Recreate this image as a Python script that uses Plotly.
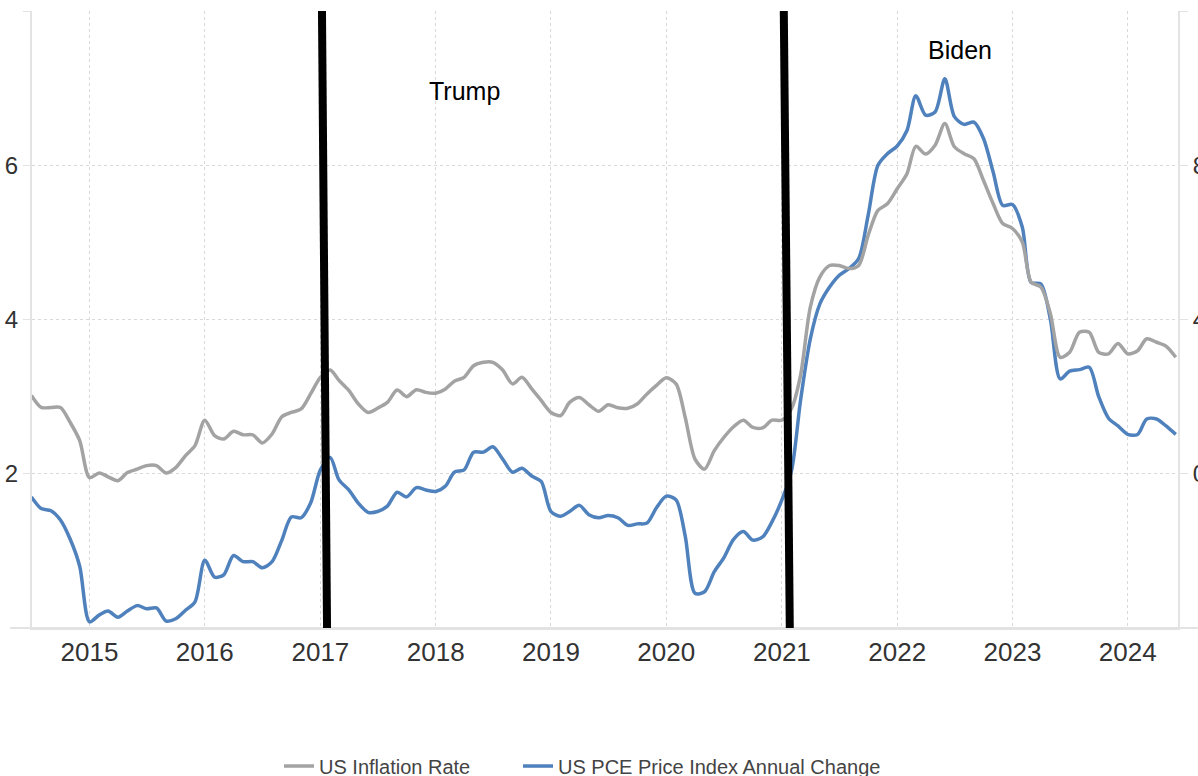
import pandas as pd
import plotly.graph_objects as go

# Monthly observations, Jul 2014 .. Jun 2024
start_month = "2014-07-01"
n_months = 120
dates = pd.date_range(start_month, periods=n_months, freq="MS")

# US Inflation Rate (CPI, YoY %) - right axis
us_inflation = [
    2.03, 1.72, 1.72, 1.72, 1.33, 0.86,
    -0.10, 0.02, -0.08, -0.18, 0.03, 0.12, 0.21, 0.21, 0.02, 0.16, 0.47, 0.73,
    1.39, 0.99, 0.90, 1.10, 1.01, 1.01, 0.80, 1.03, 1.48, 1.59, 1.68, 2.07,
    2.50, 2.69, 2.42, 2.16, 1.81, 1.59, 1.70, 1.85, 2.17, 2.00, 2.18, 2.11,
    2.09, 2.20, 2.40, 2.50, 2.80, 2.89, 2.89, 2.69, 2.33, 2.50, 2.20, 1.90,
    1.59, 1.51, 1.85, 1.98, 1.79, 1.62, 1.79, 1.71, 1.70, 1.81, 2.07, 2.29,
    2.49, 2.33, 1.46, 0.38, 0.12, 0.60, 0.94, 1.22, 1.39, 1.20, 1.19, 1.39,
    1.39, 1.70, 2.55, 4.32, 5.10, 5.40, 5.40, 5.32, 5.40, 6.18, 6.83, 7.00,
    7.39, 7.78, 8.49, 8.29, 8.52, 9.08, 8.48, 8.30, 8.17, 7.61, 7.00, 6.49,
    6.36, 6.01, 4.97, 4.84, 4.15, 3.02, 3.15, 3.67, 3.67, 3.15, 3.11, 3.38,
    3.11, 3.19, 3.50, 3.41, 3.31, 3.02,
]

# US PCE Price Index Annual Change (%) - left axis
us_pce = [
    1.70, 1.55, 1.52, 1.40, 1.15, 0.80,
    0.08, 0.17, 0.22, 0.14, 0.22, 0.29, 0.25, 0.26, 0.09, 0.12, 0.23, 0.34,
    0.88, 0.66, 0.69, 0.94, 0.86, 0.86, 0.78, 0.86, 1.14, 1.44, 1.43, 1.62,
    2.05, 2.21, 1.92, 1.79, 1.62, 1.50, 1.51, 1.58, 1.76, 1.70, 1.82, 1.79,
    1.77, 1.84, 2.02, 2.05, 2.28, 2.28, 2.35, 2.19, 2.02, 2.07, 1.97, 1.90,
    1.51, 1.45, 1.51, 1.59, 1.47, 1.43, 1.46, 1.43, 1.33, 1.35, 1.36, 1.56,
    1.71, 1.66, 1.19, 0.45, 0.47, 0.73, 0.91, 1.15, 1.25, 1.14, 1.18, 1.38,
    1.66, 2.05, 2.95, 3.75, 4.20, 4.42, 4.57, 4.66, 4.79, 5.35, 6.00, 6.15,
    6.25, 6.45, 6.90, 6.65, 6.69, 7.12, 6.63, 6.53, 6.56, 6.35, 5.91, 5.48,
    5.49, 5.20, 4.48, 4.46, 4.00, 3.23, 3.33, 3.35, 3.38, 3.00, 2.72, 2.62,
    2.51, 2.51, 2.71, 2.71, 2.62, 2.51,
]

series_names = ["US Inflation Rate", "US PCE Price Index Annual Change"]
left_ticks = [0, 2, 4, 6, 8]
left_ticktext = ["", "2", "4", "6", ""]
right_ticks = [-4, 0, 4, 8, 12]
right_ticktext = ["", "0", "4", "8", ""]

# Presidency marker lines (top date, bottom date) and labels
term_lines = [("2017-01-06", "2017-01-22"), ("2021-01-07", "2021-01-26")]
term_labels = ["Trump", "Biden"]

FONT = "Liberation Sans, Arial, sans-serif"
GRAY = "#a3a3a3"
BLUE = "#4f81bd"
GRID = "#d9d9d9"
AXIS = "#e3e3e3"
PLOT_W = 1146

fig = go.Figure()
fig.add_trace(go.Scatter(
    x=dates, y=us_inflation, name=series_names[0], yaxis="y2", legend="legend",
    mode="lines", line=dict(color=GRAY, width=3.5, shape="spline", smoothing=0.8),
))
fig.add_trace(go.Scatter(
    x=dates, y=us_pce, name=series_names[1], yaxis="y", legend="legend2",
    mode="lines", line=dict(color=BLUE, width=3.5, shape="spline", smoothing=0.8),
))

for top, bottom in term_lines:
    fig.add_shape(type="line", xref="x", yref="paper",
                  x0=top, y0=1, x1=bottom, y1=0,
                  line=dict(color="black", width=8), layer="above")

# extended bottom axis line
fig.add_shape(type="line", xref="paper", yref="paper",
              x0=-22 / PLOT_W, x1=1 + 20 / PLOT_W, y0=0, y1=0,
              line=dict(color=AXIS, width=2), layer="below")

fig.add_annotation(text=term_labels[0], xref="paper", yref="paper",
                   x=0.377, y=0.870, xanchor="center", yanchor="middle",
                   showarrow=False,
                   font=dict(family=FONT, size=25, color="black"))
fig.add_annotation(text=term_labels[1], xref="paper", yref="paper",
                   x=0.8098, y=0.937, xanchor="center", yanchor="middle",
                   showarrow=False,
                   font=dict(family=FONT, size=25, color="black"))

legend_style = dict(orientation="h", xanchor="left", y=-0.2237, yanchor="middle",
                    font=dict(family=FONT, size=20, color="#444444"),
                    itemwidth=30, bgcolor="rgba(0,0,0,0)")

fig.update_layout(
    width=1198, height=776,
    margin=dict(l=32, r=20, t=11, b=148, autoexpand=False),
    paper_bgcolor="white", plot_bgcolor="white",
    font=dict(family=FONT, color="#333333"),
    showlegend=True,
    legend=dict(x=(279 - 32) / PLOT_W, **legend_style),
    legend2=dict(x=(518 - 32) / PLOT_W, **legend_style),
    xaxis=dict(
        type="date", range=["2014-07-03", "2024-06-08"],
        tick0="2015-01-01", dtick="M12", tickformat="%Y",
        showgrid=True, gridcolor=GRID, griddash="dot", gridwidth=1,
        showline=True, linecolor=AXIS, linewidth=2,
        ticks="", tickfont=dict(family=FONT, size=26, color="#333333"),
        zeroline=False, automargin=False,
    ),
    yaxis=dict(
        range=[0, 8], tickvals=left_ticks, ticktext=left_ticktext,
        showgrid=True, gridcolor=GRID, griddash="dot", gridwidth=1,
        showline=True, linecolor=AXIS, linewidth=2,
        ticks="outside", ticklen=7, tickcolor=AXIS,
        tickfont=dict(family=FONT, size=24, color="#333333"),
        zeroline=False, automargin=False,
    ),
    yaxis2=dict(
        range=[-4, 12], tickvals=right_ticks, ticktext=right_ticktext,
        overlaying="y", side="right", showgrid=False,
        showline=True, linecolor=AXIS, linewidth=2,
        ticks="outside", ticklen=8, tickcolor=AXIS,
        tickfont=dict(family=FONT, size=24, color="#333333"),
        zeroline=False, automargin=False,
    ),
)

fig.write_html("out.html")
